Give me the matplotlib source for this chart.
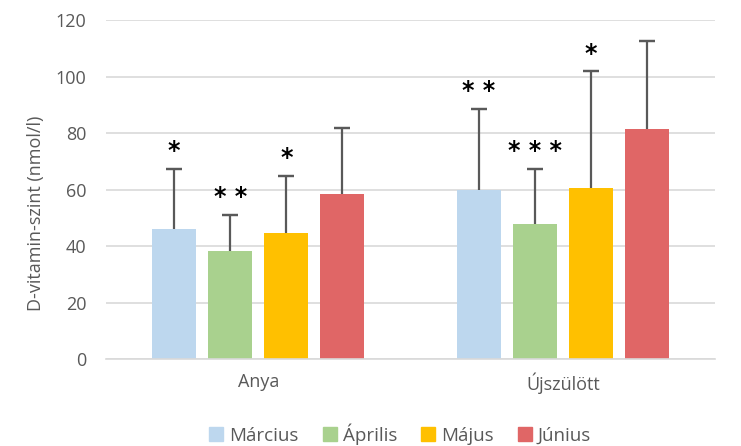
import numpy as np
import matplotlib.pyplot as plt
from matplotlib.patches import Patch

plt.rcParams['font.family'] = ['Open Sans', 'DejaVu Sans']

# data
groups = ['Anya', 'Újszülött']
months = ['Március', 'Április', 'Május', 'Június']
means = {
    'Március': [46.0, 59.8],
    'Április': [38.2, 47.8],
    'Május': [44.6, 60.5],
    'Június': [58.4, 81.4],
}
errs = {
    'Március': [21.3, 28.7],
    'Április': [12.8, 19.5],
    'Május': [20.2, 41.4],
    'Június': [23.4, 31.2],
}
stars = {
    'Március': ['*', '**'],
    'Április': ['**', '***'],
    'Május': ['*', '*'],
    'Június': ['', ''],
}
colors = ['#BDD7EE', '#A9D18E', '#FFC000', '#E06666']

fig = plt.figure(figsize=(7.41, 4.46), dpi=100)
ax = fig.add_axes([0.143, 0.195, 0.822, 0.76])

x = np.arange(len(groups))
w = 0.145
step = 0.184
for i, m in enumerate(months):
    pos = x + (i - 1.5) * step
    top = np.array(means[m]) + np.array(errs[m])
    ax.bar(pos, means[m], width=w, color=colors[i], zorder=2)
    ax.vlines(pos, means[m], top, color='#595959', linewidth=1.6, zorder=3)
    ax.errorbar(pos, top, yerr=0, fmt='none', ecolor='#595959',
                capsize=6, capthick=1.6, zorder=3)
    for p, t, s in zip(pos, top, stars[m]):
        if s:
            ax.text(p, t + 2.0, ' '.join(s), ha='center', va='bottom', fontsize=17,
                    fontweight='bold', color='black', fontfamily='DejaVu Sans')

ax.set_xlim(-0.5, 1.5)
ax.set_ylim(0, 120)
ax.set_yticks(np.arange(0, 121, 20))
ax.set_xticks(x)
ax.set_xticklabels(groups)
ax.yaxis.grid(True, color='#D9D9D9', linewidth=1.2, zorder=0)
ax.set_axisbelow(True)
for sp in ['top', 'right', 'left']:
    ax.spines[sp].set_visible(False)
ax.spines['bottom'].set_color('#D9D9D9')
ax.spines['bottom'].set_linewidth(1.2)
ax.tick_params(axis='y', length=0, labelsize=13, colors='#595959', pad=14)
ax.tick_params(axis='x', length=0, labelsize=13, colors='#595959', pad=10)
ax.set_ylabel('D-vitamin-szint (nmol/l)', fontsize=13, color='#595959')
ax.yaxis.set_label_coords(-0.1, 0.43)

handles = [Patch(color=c, label=m) for c, m in zip(colors, months)]
fig.legend(handles=handles, loc='lower center', ncol=4, frameon=False,
           fontsize=13.5, labelcolor='#595959', bbox_to_anchor=(0.54, -0.035),
           handlelength=0.75, handleheight=0.75, handletextpad=0.3, columnspacing=1.3)

fig.savefig('out.png', dpi=100)
